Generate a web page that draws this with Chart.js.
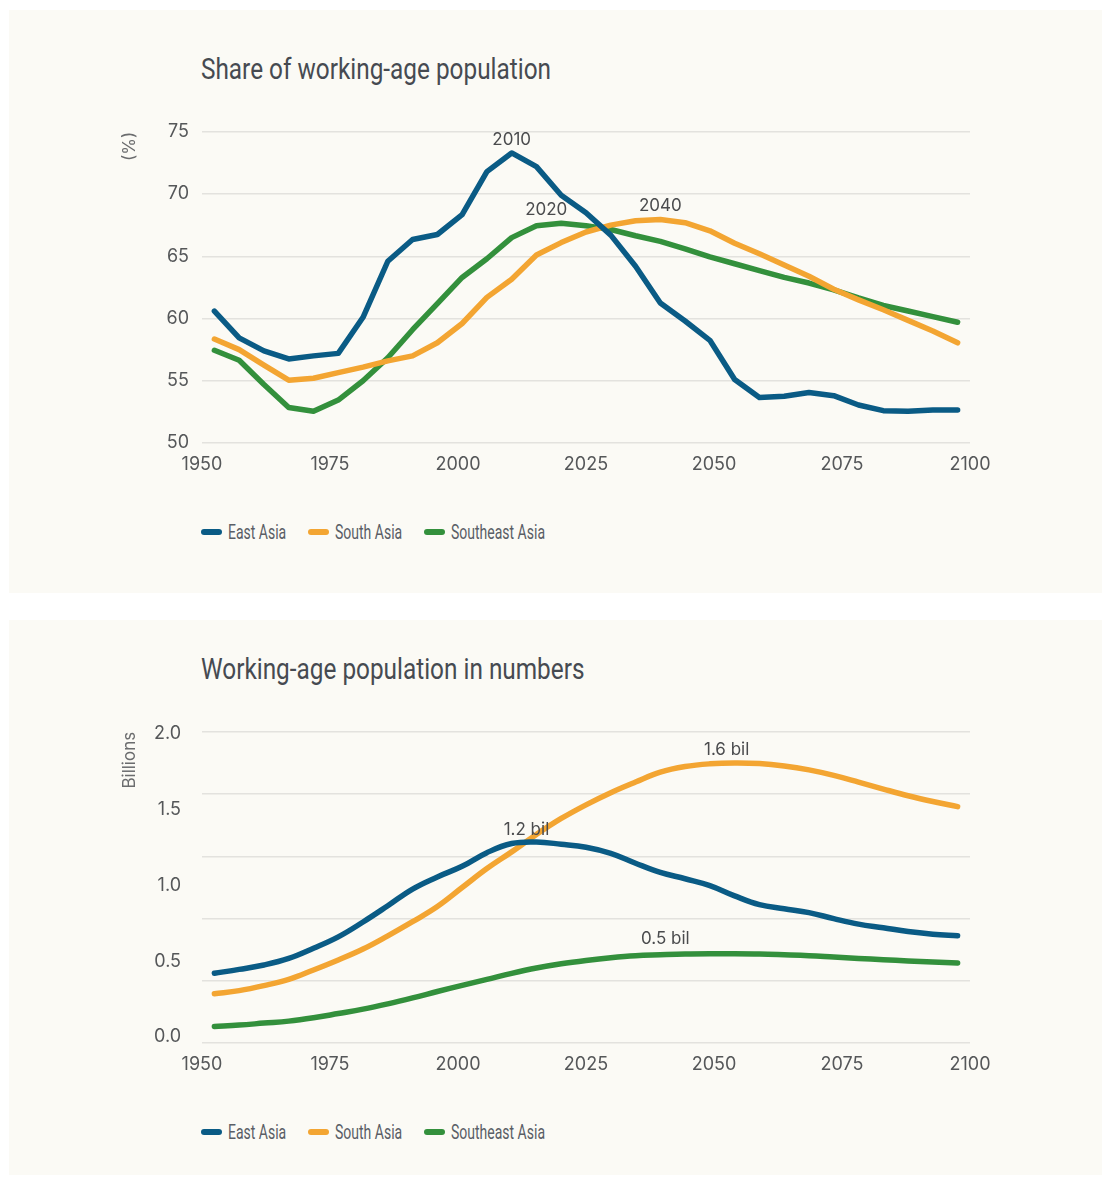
<!DOCTYPE html>
<html>
<head>
<meta charset="utf-8">
<script src="https://cdn.jsdelivr.net/npm/chart.js@4.4.1/dist/chart.umd.min.js"></script>
<style>
  body { margin: 0; width: 1102px; height: 1179px; background: #fff; position: relative; overflow: hidden; }
  .panel { position: absolute; left: 9px; width: 1093px; background: #fbfaf5; }
  .title {
    position: absolute; left: 201px; line-height: 1; white-space: nowrap;
    font-family: Roboto, 'Noto Sans', sans-serif; font-size: 29px; color: #464a51;
    transform-origin: 0 50%;
  }
  .chartbox { position: absolute; left: 116px; }
  .legend {
    position: absolute; left: 201px; display: flex; align-items: center; height: 20px;
    font-family: Roboto, 'Noto Sans', sans-serif; font-size: 20px; color: #5a5e66;
  }
  .legend .item { display: flex; align-items: center; margin-right: 22px; }
  .legend .swatch { width: 21px; height: 6px; border-radius: 3px; margin-right: 6px; }
  .legend .lbl { display: inline-block; white-space: nowrap; }
  .legend .txt { display: inline-block; transform-origin: 0 50%; }
</style>
</head>
<body>
<div class="panel" style="top:10px;height:583px"></div>
<div class="panel" style="top:620px;height:555px"></div>

<div class="title" id="titleShare" style="top:55px">Share of working-age population</div>
<div class="chartbox" style="top:108px"><canvas id="chartShare" width="880" height="373"></canvas></div>
<div class="legend" id="legendShare" style="top:522px"></div>

<div class="title" id="titleNum" style="top:655px">Working-age population in numbers</div>
<div class="chartbox" style="top:708px"><canvas id="chartNum" width="880" height="373"></canvas></div>
<div class="legend" id="legendNum" style="top:1122px"></div>

<script>
// 数据
const years = [1950, 1955, 1960, 1965, 1970, 1975, 1980, 1985, 1990, 1995, 2000, 2005, 2010, 2015, 2020, 2025,
  2030, 2035, 2040, 2045, 2050, 2055, 2060, 2065, 2070, 2075, 2080, 2085, 2090, 2095, 2100];
const seriesNames = ['East Asia', 'South Asia', 'Southeast Asia'];
const seriesColors = ['#0a5b85', '#f3a532', '#33903c'];

// share of working-age population (%)
const shareEast = [60.6, 58.45, 57.4, 56.75, 57.0, 57.2, 60.1, 64.6, 66.35, 66.75, 68.35, 71.8, 73.3, 72.2, 69.9, 68.5,
  66.7, 64.2, 61.25, 59.8, 58.25, 55.1, 53.65, 53.75, 54.05, 53.8, 53.05, 52.6, 52.55, 52.65, 52.65];
const shareSouth = [58.35, 57.5, 56.25, 55.05, 55.2, 55.65, 56.1, 56.6, 57.0, 58.05, 59.6, 61.7, 63.15, 65.1, 66.1, 66.95,
  67.5, 67.85, 67.95, 67.7, 67.05, 66.05, 65.2, 64.3, 63.4, 62.35, 61.5, 60.7, 59.85, 59.0, 58.05];
const shareSoutheast = [57.45, 56.65, 54.7, 52.85, 52.55, 53.45, 55.0, 56.85, 59.1, 61.2, 63.3, 64.8, 66.5, 67.45, 67.65, 67.45,
  67.15, 66.65, 66.2, 65.6, 64.95, 64.4, 63.85, 63.3, 62.85, 62.3, 61.65, 61.05, 60.6, 60.15, 59.7];

// working-age population (billions)
const numEast = [0.42, 0.446, 0.475, 0.518, 0.585, 0.66, 0.758, 0.865, 0.975, 1.055, 1.125, 1.215, 1.275, 1.285, 1.27, 1.25,
  1.21, 1.145, 1.085, 1.043, 0.998, 0.93, 0.872, 0.845, 0.82, 0.78, 0.744, 0.72, 0.695, 0.678, 0.667];
const numSouth = [0.285, 0.306, 0.339, 0.38, 0.442, 0.508, 0.58, 0.667, 0.76, 0.86, 0.985, 1.11, 1.22, 1.335, 1.44, 1.53,
  1.61, 1.68, 1.745, 1.782, 1.8, 1.806, 1.802, 1.786, 1.76, 1.724, 1.68, 1.634, 1.59, 1.552, 1.518];
const numSoutheast = [0.07, 0.079, 0.092, 0.105, 0.127, 0.155, 0.184, 0.219, 0.258, 0.3, 0.341, 0.38, 0.42, 0.455, 0.483, 0.505,
  0.523, 0.536, 0.542, 0.547, 0.549, 0.549, 0.547, 0.542, 0.536, 0.527, 0.518, 0.51, 0.501, 0.494, 0.488];

// 刻度
const xTicks = [1950, 1975, 2000, 2025, 2050, 2075, 2100];
const shareTicks = [50, 55, 60, 65, 70, 75];
const numTicks = [0, 0.5, 1.0, 1.5, 2.0];

const TICK_FONT = { family: 'Inter, "DejaVu Sans", sans-serif', size: 18 };
const TICK_COLOR = '#555759';
const GRID_COLOR = '#e3e2de';
const TITLE_WIDTH = 350;     // 标题的目标宽度（窄体字效果）
const LEGEND_SQUEEZE = 0.7;

/**
 * 峰值标注
 */
const peakNotes = {
  id: 'peakNotes',
  afterDatasetsDraw(chart, args, opts) {
    const ctx = chart.ctx;
    ctx.save();
    ctx.font = '17px Inter, "DejaVu Sans", sans-serif';
    ctx.fillStyle = '#4a4b4d';
    ctx.textAlign = 'center';
    ctx.textBaseline = 'middle';
    (opts.notes || []).forEach(n => {
      const pt = chart.getDatasetMeta(n.ds).data[n.idx];
      ctx.fillText(n.text, pt.x + n.dx, pt.y + n.dy);
    });
    ctx.restore();
  }
};

function buildDatasets(series, tension) {
  return series.map((data, i) => ({
    label: seriesNames[i],
    data,
    borderColor: seriesColors[i],
    backgroundColor: seriesColors[i],
    borderWidth: 5.5,
    pointRadius: 0,
    fill: false,
    tension,
    borderJoinStyle: 'round',
    borderCapStyle: 'round'
  }));
}

function xScales() {
  return {
    x: { type: 'category', offset: true, display: false },
    xt: {
      type: 'linear', position: 'bottom', min: 1950, max: 2100,
      afterBuildTicks: s => { s.ticks = xTicks.map(v => ({ value: v })); },
      afterFit: s => { s.height = 38; },
      ticks: { callback: v => String(v), font: TICK_FONT, color: TICK_COLOR, padding: 3, maxRotation: 0 },
      grid: { display: false },
      border: { display: false }
    }
  };
}

function yTitle(text) {
  return { display: true, text, align: 'end', color: '#6b6c6e', font: { family: 'Inter, "DejaVu Sans", sans-serif', size: 17 } };
}

function createLineConfig(series, tension, yScales, notes) {
  return {
    type: 'line',
    data: { labels: years, datasets: buildDatasets(series, tension) },
    options: {
      responsive: false,
      animation: false,
      layout: { padding: { top: 10, right: 26, bottom: 0, left: 0 } },
      plugins: {
        legend: { display: false },
        tooltip: { enabled: false },
        peakNotes: { notes }
      },
      scales: Object.assign(xScales(), yScales)
    },
    plugins: [peakNotes]
  };
}

function buildLegend(id) {
  const el = document.getElementById(id);
  seriesNames.forEach((name, i) => {
    const item = document.createElement('div');
    item.className = 'item';
    const sw = document.createElement('span');
    sw.className = 'swatch';
    sw.style.background = seriesColors[i];
    const box = document.createElement('span');
    box.className = 'lbl';
    const txt = document.createElement('span');
    txt.className = 'txt';
    txt.textContent = name;
    box.appendChild(txt);
    item.appendChild(sw);
    item.appendChild(box);
    el.appendChild(item);
    const w = txt.getBoundingClientRect().width;
    txt.style.transform = 'scaleX(' + LEGEND_SQUEEZE + ')';
    box.style.width = (w * LEGEND_SQUEEZE) + 'px';
  });
}

function squeezeTitles() {
  const first = document.getElementById('titleShare');
  const k = TITLE_WIDTH / first.getBoundingClientRect().width;
  ['titleShare', 'titleNum'].forEach(id => {
    document.getElementById(id).style.transform = 'scaleX(' + k + ')';
  });
}

// 占比图
new Chart(document.getElementById('chartShare'), createLineConfig(
  [shareEast, shareSouth, shareSoutheast], 0,
  {
    y: {
      min: 50, max: 75,
      afterBuildTicks: s => { s.ticks = shareTicks.map(v => ({ value: v })); },
      afterFit: s => { s.width = 86; },
      ticks: { font: TICK_FONT, color: TICK_COLOR, padding: 13 },
      grid: { color: GRID_COLOR, lineWidth: 1.5, drawTicks: false },
      border: { display: false },
      title: yTitle('(%)')
    }
  },
  [
    { text: '2010', ds: 0, idx: 12, dx: 0, dy: -13 },
    { text: '2020', ds: 2, idx: 14, dx: -15, dy: -13 },
    { text: '2040', ds: 1, idx: 18, dx: 0, dy: -14 }
  ]
));

// 人数图：刻度标签与网格线各用一条轴
new Chart(document.getElementById('chartNum'), createLineConfig(
  [numEast, numSouth, numSoutheast], 0.4,
  {
    y: {
      min: -0.039, max: 2.011,
      afterBuildTicks: s => { s.ticks = numTicks.map(v => ({ value: v })); },
      afterFit: s => { s.width = 86; },
      ticks: { font: TICK_FONT, color: TICK_COLOR, padding: 13, callback: v => v.toFixed(1) },
      grid: { display: false },
      border: { display: false },
      title: yTitle('Billions')
    },
    yg: {
      position: 'right', min: 0, max: 5,
      ticks: { display: false, stepSize: 1 },
      afterFit: s => { s.width = 0; },
      grid: { color: GRID_COLOR, lineWidth: 1.5, drawTicks: false },
      border: { display: false }
    }
  },
  [
    { text: '1.2 bil', ds: 0, idx: 13, dx: -10, dy: -12 },
    { text: '1.6 bil', ds: 1, idx: 21, dx: -8, dy: -13 },
    { text: '0.5 bil', ds: 2, idx: 18, dx: 5, dy: -16 }
  ]
));

squeezeTitles();
buildLegend('legendShare');
buildLegend('legendNum');
</script>
</body>
</html>
